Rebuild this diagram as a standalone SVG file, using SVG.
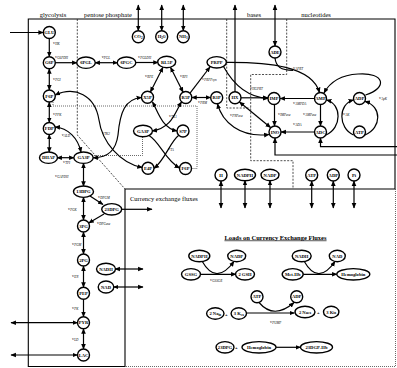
<svg xmlns="http://www.w3.org/2000/svg" width="397" height="368" viewBox="0 0 397 368">
<defs>
<style>
.n circle,.n ellipse{fill:#fff;stroke:#000;stroke-width:1.4}
.n text{font-family:"Liberation Serif",serif;font-size:4.6px;font-weight:bold;text-anchor:middle}
.n tspan{font-size:3.3px}
.c path{fill:none;stroke:#000;stroke-width:1.2}
.b{marker-start:url(#ah);marker-end:url(#ah)}
.e{marker-end:url(#ah)}
.v{font-family:"Liberation Serif",serif;font-size:4.8px;font-style:italic}
.v tspan{font-size:3.3px}
.r{font-family:"Liberation Serif",serif;font-size:6.5px}
.bd{fill:none;stroke:#000;stroke-width:1.1}
.ds{fill:none;stroke:#222;stroke-width:0.8;stroke-dasharray:2 1.4}
.dt{fill:none;stroke:#444;stroke-width:0.8;stroke-dasharray:1 1}
</style>
<marker id="ah" viewBox="0 0 10 10" refX="9" refY="5" markerWidth="5.5" markerHeight="5.5" markerUnits="userSpaceOnUse" orient="auto-start-reverse"><path d="M0,0.8 L10,5 L0,9.2 z"/></marker>
</defs>
<rect width="397" height="368" fill="#fff"/>
<g id="frame">
<path class="bd" d="M28.3,19 H395 V189 H125 V366.5 H28.3 Z"/>
<path class="dt" d="M395.5,189 V366.5 H125"/>
<path class="ds" d="M77.3,19 V135 L125,189"/>
<path class="dt" d="M53,102 V106 H197 V168.5 H191.5"/>
<path class="dt" d="M142.5,137 V155.5 H93.5"/>
<path class="ds" d="M226.7,19 V108 H250.7"/>
<path class="ds" d="M286.7,19 V74.5 H250.7 V160.7 H293 V189"/>
<text class="r" x="53" y="17" text-anchor="middle">glycolysis</text>
<text class="r" x="108" y="17" text-anchor="middle">pentose phosphate</text>
<text class="r" x="254" y="17" text-anchor="middle">bases</text>
<text class="r" x="316" y="17" text-anchor="middle">nucleotides</text>
<text class="r" x="130" y="201" font-size="6">Currency exchange fluxes</text>
<text class="r" x="275.5" y="239.5" text-anchor="middle" font-size="7" font-weight="bold" text-decoration="underline">Loads on Currency Exchange Fluxes</text>
</g>
<g id="connectors" class="c">
<path class="e" d="M10,32.5 H43.3"/>
<path class="e" d="M49.3,38.5 V56.7"/>
<path class="b" d="M49.3,68.7 V90"/>
<path class="b" d="M49.3,102 V122.5"/>
<path class="b" d="M49.3,134.5 V152.2"/>
<path class="b" d="M55,127 C68,128 78,138 81,152.2"/>
<path class="b" d="M57,157.7 H74"/>
<path class="b" d="M83.5,163.2 V186.2"/>
<path class="e" d="M90,196 L103,204.5"/>
<path class="e" d="M104,214 L88.8,223"/>
<path class="b" d="M83.5,197.2 V220"/>
<path class="b" d="M83.5,232 V254"/>
<path class="b" d="M83.5,266 V287.3"/>
<path class="e" d="M83.5,299.3 V316.7"/>
<path class="b" d="M83.5,328.7 V349"/>
<path class="b" d="M11,322.7 H77.5"/>
<path class="b" d="M11,355 H77.5"/>
<path class="b" d="M115,269 H143"/>
<path class="b" d="M113.5,287 H143"/>
<path class="e" d="M121.2,209.3 H152"/>
<path class="e" d="M55.3,62.7 H77"/>
<path class="b" d="M95,62.7 H117.5"/>
<path class="e" d="M135.5,62.5 H158.2"/>
<path class="b" d="M163,67.3 L150.4,92"/>
<path class="b" d="M170.5,67.3 L183.1,92.2"/>
<path class="e" d="M190,93.2 L210,67"/>
<path class="b" d="M191.8,97.5 H210.7"/>
<path class="b" d="M55.2,95 C75,86 95,95 99,120 C102,142 120,163 142.2,167.5"/>
<path class="b" d="M93,157.7 C108,158 116,150 118,135 C120,112 125,99 141.5,97.5"/>
<path class="b" d="M152.5,102 C158,112 162,128 177,131"/>
<path class="b" d="M181.5,102 C175,112 172,128 152,131"/>
<path class="e" d="M149,135.5 C160,142 165,160 179.5,168"/>
<path class="e" d="M178.8,135.3 C170,142 165,160 154,168.3"/>
<path class="b" d="M138.3,5 V30.7"/>
<path class="b" d="M161.7,5 V30.7"/>
<path class="b" d="M183.3,5 V30.7"/>
<path class="b" d="M275,5 V46"/>
<path class="e" d="M235,91.7 V5"/>
<path class="e" d="M226.2,62.3 C268,62 312,66 319.5,92.5"/>
<path d="M275,58 C276,67 281,70 293,70.3"/>
<path class="e" d="M223.5,66.5 C232,82 245,97 268,98.5"/>
<path class="e" d="M241,97.8 H268"/>
<path class="e" d="M314.5,98.5 H280"/>
<path class="e" d="M274.5,104.5 V126"/>
<path class="e" d="M320.5,104.5 V126"/>
<path class="e" d="M314.5,132 H281"/>
<path class="b" d="M270.5,127.5 L239.5,102"/>
<path class="b" d="M217.5,103.7 C222,122 240,138 269,134.5"/>
<path class="e" d="M397,146.7 H320.5 V138"/>
<path class="e" d="M397,155 H275 V138"/>
<path class="e" d="M365.5,95 C388,88 385,72 358,74 C340,75 330,82 324,93"/>
<path class="e" d="M365,135 C382,128 382,106 365,101.5"/>
<path class="e" d="M326,135 C342,128 342,104 326.5,100"/>
<path class="e" d="M353.5,135 C338,128 338,104 353.5,100"/>
<path class="b" d="M221,181 V208"/>
<path class="b" d="M245,180.5 V208"/>
<path class="b" d="M270,180.5 V208"/>
<path class="b" d="M311.7,181 V208"/>
<path class="b" d="M333.3,181 V208"/>
<path class="b" d="M354,181 V208"/>
<path class="e" d="M200,274.3 H236"/>
<path class="e" d="M202,261 Q216,286 234,261.5"/>
<path class="e" d="M302.7,274.3 H337"/>
<path class="e" d="M304,261 Q318,286 335,261.5"/>
<path class="e" d="M246.5,313 H294.5"/>
<path class="e" d="M259,302.5 Q274,320 294,302.5"/>
<path class="e" d="M276,347.3 H300.5"/>
</g>
<g id="labels">
<text class="v" x="53" y="44">v<tspan dy="1">HK</tspan></text>
<text class="v" x="55" y="57.5">v<tspan dy="1">G6PDH</tspan></text>
<text class="v" x="101.7" y="57.5">v<tspan dy="1">PGL</tspan></text>
<text class="v" x="138" y="57.5">v<tspan dy="1">PGLDH</tspan></text>
<text class="v" x="53" y="80">v<tspan dy="1">PGI</tspan></text>
<text class="v" x="53" y="115">v<tspan dy="1">PFK</tspan></text>
<text class="v" x="61.7" y="136">v<tspan dy="1">ALD</tspan></text>
<text class="v" x="63" y="163">v<tspan dy="1">TPI</tspan></text>
<text class="v" x="55" y="177">v<tspan dy="1">GAPDH</tspan></text>
<text class="v" x="98" y="197.5">v<tspan dy="1">DPGM</tspan></text>
<text class="v" x="68" y="210">v<tspan dy="1">PGK</tspan></text>
<text class="v" x="97" y="223.5">v<tspan dy="1">DPGase</tspan></text>
<text class="v" x="72" y="245">v<tspan dy="1">PGM</tspan></text>
<text class="v" x="72" y="277">v<tspan dy="1">EN</tspan></text>
<text class="v" x="72" y="308.5">v<tspan dy="1">PK</tspan></text>
<text class="v" x="72" y="339.5">v<tspan dy="1">LD</tspan></text>
<text class="v" x="145" y="76.5">v<tspan dy="1">RPE</tspan></text>
<text class="v" x="180" y="77">v<tspan dy="1">RPI</tspan></text>
<text class="v" x="202" y="80">v<tspan dy="1">PRPPsyn</tspan></text>
<text class="v" x="198" y="103">v<tspan dy="1">PRM</tspan></text>
<text class="v" x="169" y="116.5">v<tspan dy="1">TK1</tspan></text>
<text class="v" x="102" y="134">v<tspan dy="1">TK2</tspan></text>
<text class="v" x="168" y="149.5">v<tspan dy="1">TA</tspan></text>
<text class="v" x="250" y="88.5">v<tspan dy="1">HGPRT</tspan></text>
<text class="v" x="293" y="68.5">v<tspan dy="1">APRT</tspan></text>
<text class="v" x="230" y="116">v<tspan dy="1">PNPase</tspan></text>
<text class="v" x="278" y="115">v<tspan dy="1">IMPase</tspan></text>
<text class="v" x="293" y="103.5">v<tspan dy="1">AMPDA</tspan></text>
<text class="v" x="303" y="115">v<tspan dy="1">AMPase</tspan></text>
<text class="v" x="293" y="125">v<tspan dy="1">ADA</tspan></text>
<text class="v" x="343" y="115">v<tspan dy="1">AK</tspan></text>
<text class="v" x="379" y="99">v<tspan dy="1">ApK</tspan></text>
<text class="v" x="210" y="281">v<tspan dy="1">GSSGR</tspan></text>
<text class="v" x="270" y="323">v<tspan dy="1">PUMP</tspan></text>
</g>
<g class="n">
<g id="GLU"><circle cx="49.3" cy="32.5" r="6"/><text x="49.3" y="34.1">GLU</text></g>
<g id="G6P"><circle cx="49.3" cy="62.7" r="6"/><text x="49.3" y="64.3">G6P</text></g>
<g id="F6P"><circle cx="49.3" cy="96" r="6"/><text x="49.3" y="97.6">F6P</text></g>
<g id="FDP"><circle cx="49.3" cy="128.5" r="6"/><text x="49.3" y="130.1">FDP</text></g>
<g id="DHAP"><ellipse cx="48.5" cy="157.7" rx="9" ry="5.7"/><text x="48.5" y="159.3">DHAP</text></g>
<g id="GA3P_g"><ellipse cx="83.5" cy="157.7" rx="9.7" ry="5.7"/><text x="83.5" y="159.3">GA3P</text></g>
<g id="n13DPG"><ellipse cx="83.5" cy="191.7" rx="10" ry="5.7"/><text x="83.5" y="193.3">13DPG</text></g>
<g id="n23DPG"><ellipse cx="111.7" cy="209.3" rx="10" ry="5.7"/><text x="111.7" y="210.9">23DPG</text></g>
<g id="n3PG"><circle cx="83.5" cy="226" r="6"/><text x="83.5" y="227.6">3PG</text></g>
<g id="n2PG"><circle cx="83.5" cy="260" r="6"/><text x="83.5" y="261.6">2PG</text></g>
<g id="PEP"><circle cx="83.5" cy="293.3" r="6"/><text x="83.5" y="294.9">PEP</text></g>
<g id="PYR"><circle cx="83.5" cy="322.7" r="6"/><text x="83.5" y="324.3">PYR</text></g>
<g id="LAC"><circle cx="83.5" cy="355" r="6"/><text x="83.5" y="356.6">LAC</text></g>
<g id="NADH_g"><ellipse cx="106" cy="269" rx="9.5" ry="5.7"/><text x="106" y="270.6">NADH</text></g>
<g id="NAD_g"><ellipse cx="106" cy="287" rx="7.8" ry="6"/><text x="106" y="288.6">NAD</text></g>
<g id="n6PGL"><ellipse cx="86" cy="62.7" rx="9.3" ry="5.7"/><text x="86" y="64.3">6PGL</text></g>
<g id="n6PGC"><ellipse cx="126.5" cy="62.7" rx="9.3" ry="5.7"/><text x="126.5" y="64.3">6PGC</text></g>
<g id="RL5P"><ellipse cx="166.7" cy="62" rx="9" ry="5.7"/><text x="166.7" y="63.6">RL5P</text></g>
<g id="CO2"><circle cx="138.3" cy="36.7" r="6"/><text x="138.3" y="38.3">CO<tspan dy="0.8">2</tspan></text></g>
<g id="H2O"><circle cx="161.7" cy="36.7" r="6"/><text x="161.7" y="38.3">H<tspan dy="0.8">2</tspan><tspan dy="-0.8" font-size="4.6">O</tspan></text></g>
<g id="NH3"><circle cx="183.3" cy="36.7" r="6"/><text x="183.3" y="38.3">NH<tspan dy="0.8">3</tspan></text></g>
<g id="X5P"><circle cx="147.5" cy="97.3" r="6"/><text x="147.5" y="98.9">X5P</text></g>
<g id="R5P"><circle cx="185.8" cy="97.5" r="6"/><text x="185.8" y="99.1">R5P</text></g>
<g id="GA3P_p"><ellipse cx="143" cy="131" rx="9.5" ry="5.7"/><text x="143" y="132.6">GA3P</text></g>
<g id="S7P"><circle cx="183" cy="131" r="6"/><text x="183" y="132.6">S7P</text></g>
<g id="E4P"><circle cx="148" cy="168.3" r="6"/><text x="148" y="169.9">E4P</text></g>
<g id="F6P_p"><circle cx="185.5" cy="168.5" r="6"/><text x="185.5" y="170.1">F6P</text></g>
<g id="PRPP"><ellipse cx="216.7" cy="62.3" rx="9.7" ry="5.7"/><text x="216.7" y="63.9">PRPP</text></g>
<g id="R1P"><circle cx="216.7" cy="97.7" r="6"/><text x="216.7" y="99.3">R1P</text></g>
<g id="HX"><circle cx="235" cy="97.7" r="6"/><text x="235" y="99.3">HX</text></g>
<g id="ADE"><circle cx="275" cy="52" r="6"/><text x="275" y="53.6">ADE</text></g>
<g id="IMP"><circle cx="274" cy="98.5" r="6"/><text x="274" y="100.1">IMP</text></g>
<g id="AMP"><circle cx="320.5" cy="98.5" r="6"/><text x="320.5" y="100.1">AMP</text></g>
<g id="ADP"><circle cx="359.5" cy="98.5" r="6"/><text x="359.5" y="100.1">ADP</text></g>
<g id="ADC"><circle cx="320.5" cy="132" r="6"/><text x="320.5" y="133.6">ADC</text></g>
<g id="ATP"><circle cx="359.5" cy="132" r="6"/><text x="359.5" y="133.6">ATP</text></g>
<g id="INO"><circle cx="275" cy="132" r="6"/><text x="275" y="133.6">INO</text></g>
<g id="H_c"><circle cx="221" cy="175" r="6"/><text x="221" y="176.6">H</text></g>
<g id="NADPH_c"><ellipse cx="245" cy="175" rx="10.5" ry="5.7"/><text x="245" y="176.6">NADPH</text></g>
<g id="NADP_c"><ellipse cx="270" cy="175" rx="9" ry="5.7"/><text x="270" y="176.6">NADP</text></g>
<g id="ATP_c"><circle cx="311.7" cy="175" r="6"/><text x="311.7" y="176.6">ATP</text></g>
<g id="ADP_c"><circle cx="333.3" cy="175" r="6"/><text x="333.3" y="176.6">ADP</text></g>
<g id="Pi_c"><circle cx="354" cy="175" r="6"/><text x="354" y="176.6">Pi</text></g>
<g id="NADPH_l"><ellipse cx="199.3" cy="256" rx="10.5" ry="5.7"/><text x="199.3" y="257.6">NADPH</text></g>
<g id="NADP_l"><ellipse cx="236.7" cy="256" rx="9" ry="5.7"/><text x="236.7" y="257.6">NADP</text></g>
<g id="GSSG"><ellipse cx="191" cy="274.3" rx="9.5" ry="5.7"/><text x="191" y="275.9">GSSG</text></g>
<g id="GSH"><ellipse cx="245" cy="274.3" rx="9.5" ry="5.7"/><text x="245" y="275.9">2 GSH</text></g>
<g id="NADH_l"><ellipse cx="301.7" cy="256" rx="9.5" ry="5.7"/><text x="301.7" y="257.6">NADH</text></g>
<g id="NAD_l"><ellipse cx="337.3" cy="256" rx="8" ry="5.7"/><text x="337.3" y="257.6">NAD</text></g>
<g id="MetHb"><ellipse cx="292.7" cy="274.3" rx="10.5" ry="5.7"/><text x="292.7" y="275.9">Met-Hb</text></g>
<g id="Hb1"><ellipse cx="353.3" cy="274.3" rx="16.5" ry="5.7"/><text x="353.3" y="275.9">Hemoglobin</text></g>
<g id="ATP_l"><circle cx="257" cy="296.7" r="6"/><text x="257" y="298.3">ATP</text></g>
<g id="ADP_l"><circle cx="296.7" cy="296.7" r="6"/><text x="296.7" y="298.3">ADP</text></g>
<g id="Na_in"><ellipse cx="215.3" cy="313.5" rx="8.7" ry="5.7"/><text x="215.3" y="315.1">2 Na<tspan dy="0.8">in</tspan></text></g>
<g id="K_ex"><ellipse cx="238.8" cy="313.5" rx="7.7" ry="5.7"/><text x="238.8" y="315.1">3 K<tspan dy="0.8">ex</tspan></text></g>
<g id="Na_ex"><ellipse cx="305" cy="312" rx="10" ry="5.7"/><text x="305" y="313.6">2 Na<tspan dy="0.8">ex</tspan></text></g>
<g id="K_in"><ellipse cx="331.2" cy="312" rx="7.7" ry="5.7"/><text x="331.2" y="313.6">3 K<tspan dy="0.8">in</tspan></text></g>
<g id="DPG_l"><ellipse cx="225" cy="347.3" rx="9" ry="5.7"/><text x="225" y="348.9">23DPG</text></g>
<g id="Hb2"><ellipse cx="259" cy="347.3" rx="17" ry="5.7"/><text x="259" y="348.9">Hemoglobin</text></g>
<g id="DPGHb"><ellipse cx="316.5" cy="347.3" rx="16" ry="5.7"/><text x="316.5" y="348.9">23DGP-Hb</text></g>
<g id="plus"><text x="226.3" y="315.5" font-size="6" font-weight="normal">+</text><text x="318.3" y="314" font-size="6" font-weight="normal">+</text><text x="236.3" y="349.3" font-size="6" font-weight="normal">+</text></g>
</g>
</svg>
